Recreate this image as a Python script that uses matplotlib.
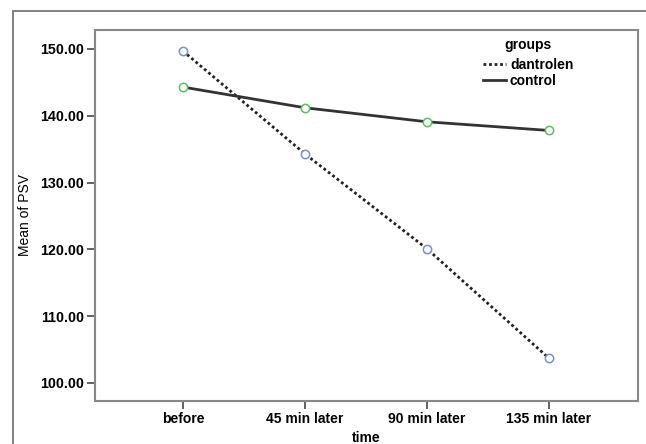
import numpy as np
import matplotlib.pyplot as plt
from matplotlib.patches import Rectangle

plt.rcParams['font.family'] = ['Liberation Sans', 'DejaVu Sans']

tiempos = ["before", "45 min later", "90 min later", "135 min later"]
dantrolen = [149.7, 134.3, 120.1, 103.7]
control = [144.3, 141.2, 139.1, 137.8]

W, H = 646, 444
fig = plt.figure(figsize=(W / 100, H / 100), dpi=100)

# marco exterior (sale por la derecha y por abajo)
fig.patches.append(Rectangle((13 / W, -0.1), 1.0, 1 - 11 / H + 0.1,
                             transform=fig.transFigure, fill=False,
                             edgecolor='#777777', linewidth=1.3))

ax = fig.add_axes([95 / W, 1 - 401 / H, (638 - 95) / W, (401 - 30) / H])
x = np.arange(len(tiempos))

ax.plot(x, dantrolen, color='#222222', linestyle=(0, (1, 1)), linewidth=2,
        marker='o', markersize=6, markerfacecolor='white',
        markeredgecolor='#7a8ed8', markeredgewidth=1.1, label='dantrolen')
ax.plot(x, control, color='#333333', linestyle='-', linewidth=2,
        marker='o', markersize=6, markerfacecolor='white',
        markeredgecolor='#5cc05c', markeredgewidth=1.1, label='control')

ax.set_xlim(-0.72, 3.73)
ax.set_ylim(97.3, 152.84)
ax.set_xticks(x)
ax.set_xticklabels(tiempos, fontweight='bold', fontsize=10)
ax.set_yticks([100, 110, 120, 130, 140, 150])
ax.set_yticklabels([f"{v:.2f}" for v in [100, 110, 120, 130, 140, 150]],
                   fontweight='bold', fontsize=10.3)
ax.tick_params(direction='out', length=6, width=1.3, color='#555555', pad=2)

for s in ax.spines.values():
    s.set_color('#888888')
    s.set_linewidth(1.5)

ax.set_ylabel("Mean of PSV", fontsize=10, labelpad=6)
ax.set_xlabel("time", fontweight='bold', fontsize=10, labelpad=3.5)

leg = ax.legend(title="groups", loc='upper left', bbox_to_anchor=(0.704, 0.993),
                frameon=False, handlelength=1.7, handletextpad=0.25,
                labelspacing=0.15, borderaxespad=0,
                prop={'weight': 'bold', 'size': 10})
leg.get_title().set_fontweight('bold')
leg.get_title().set_fontsize(10)
leg._legend_box.sep = 4
for h in leg.legend_handles:
    h.set_marker('')

fig.savefig("out.png", dpi=100)
